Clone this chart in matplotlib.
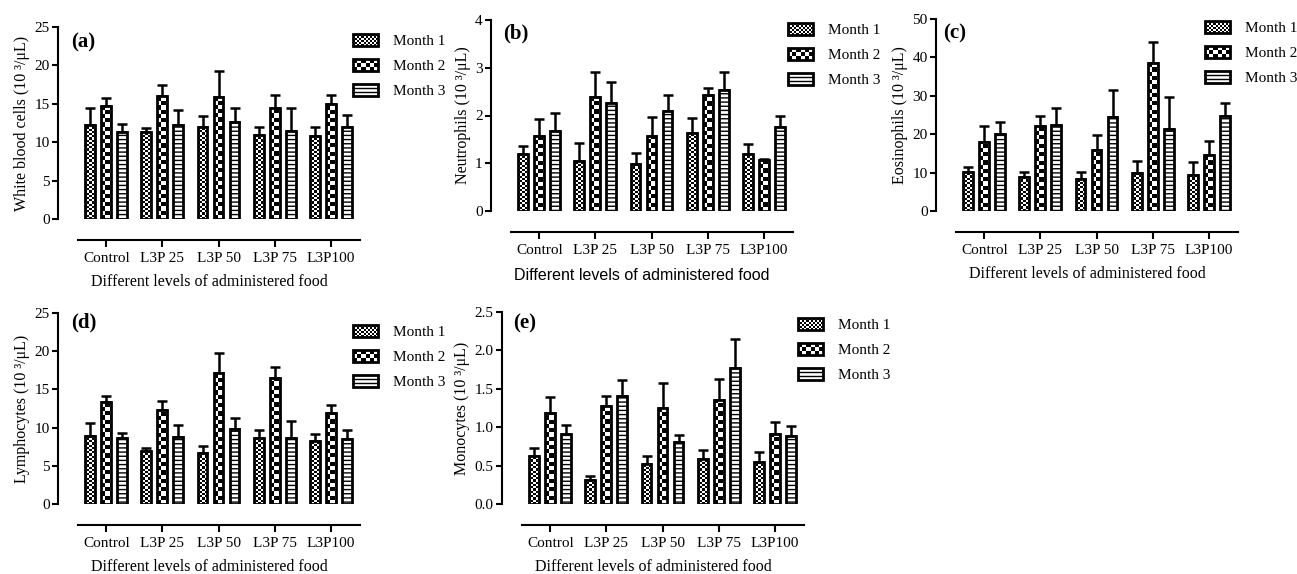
import numpy as np
import matplotlib
matplotlib.use("Agg")
import matplotlib.pyplot as plt
from matplotlib.patches import Rectangle
from matplotlib.lines import Line2D
from matplotlib.legend_handler import HandlerBase

plt.rcParams['font.family'] = ['Liberation Serif', 'DejaVu Serif']
plt.rcParams['hatch.linewidth'] = 1.0

groups = ["Control", "L3P 25", "L3P 50", "L3P 75", "L3P100"]
months = ["Month 1", "Month 2", "Month 3"]

# mean values per month (rows) and group (columns), and top of error bar
wbc_mean = [[12.2, 11.35, 12.0, 11.0, 10.8],
            [14.7, 16.0, 15.9, 14.5, 14.95],
            [11.3, 12.3, 12.65, 11.4, 12.0]]
wbc_top = [[14.5, 11.9, 13.4, 12.0, 12.0],
           [15.8, 17.4, 19.3, 16.1, 16.1],
           [12.4, 14.2, 14.4, 14.5, 13.5]]

neu_mean = [[1.19, 1.05, 0.99, 1.64, 1.20],
            [1.57, 2.39, 1.58, 2.42, 1.07],
            [1.67, 2.26, 2.09, 2.54, 1.75]]
neu_top = [[1.36, 1.42, 1.21, 1.94, 1.40],
           [1.92, 2.92, 1.96, 2.58, 1.08],
           [2.06, 2.70, 2.42, 2.92, 1.99]]

eos_mean = [[10.05, 8.9, 8.4, 9.9, 9.45],
            [17.9, 22.1, 16.0, 38.6, 14.5],
            [20.1, 22.3, 24.35, 21.3, 24.8]]
eos_top = [[11.4, 10.2, 10.05, 13.1, 12.8],
           [22.2, 24.7, 19.7, 44.0, 18.1],
           [23.2, 26.9, 31.4, 29.6, 28.25]]

lym_mean = [[8.9, 6.9, 6.65, 8.6, 8.2],
            [13.3, 12.3, 17.1, 16.5, 11.95],
            [8.7, 8.8, 9.8, 8.7, 8.45]]
lym_top = [[10.6, 7.35, 7.6, 9.75, 9.2],
           [14.2, 13.5, 19.8, 17.9, 13.0],
           [9.3, 10.3, 11.2, 10.9, 9.7]]

mon_mean = [[0.63, 0.31, 0.52, 0.59, 0.55],
            [1.18, 1.28, 1.25, 1.35, 0.91],
            [0.91, 1.41, 0.81, 1.77, 0.88]]
mon_top = [[0.73, 0.37, 0.63, 0.70, 0.68],
           [1.39, 1.40, 1.57, 1.63, 1.07],
           [1.03, 1.62, 0.90, 2.15, 1.01]]

W, H = 1297, 574
XMIN, XMAX = -0.86, 4.52
AX_W = 302
lw = 2.0
cell_px = [2.2, 4.2, None]   # checker size for month 1 and 2, month 3 is lines


def fx(x):
    return x / W


def fy(y):
    return 1 - y / H


class PatternHandler(HandlerBase):
    # legend key drawn with the same checker / stripe look as the bars
    def __init__(self, kind):
        super().__init__()
        self.kind = kind

    def create_artists(self, legend, orig_handle, xdescent, ydescent,
                       width, height, fontsize, trans):
        x0, y0 = -xdescent, -ydescent
        arts = [Rectangle((x0, y0), width, height, facecolor='white',
                          edgecolor='none', transform=trans)]
        if self.kind < 2:
            nx = 12 if self.kind == 0 else 6
            c = width / nx
            ny = max(1, int(round(height / c)))
            cy = height / ny
            for i in range(nx):
                for j in range(ny):
                    if (i + j) % 2 == 0:
                        arts.append(Rectangle((x0 + i * c, y0 + j * cy), c, cy,
                                              facecolor='black', edgecolor='none',
                                              transform=trans))
        else:
            for f in (0.35, 0.65):
                arts.append(Line2D([x0, x0 + width], [y0 + f * height] * 2,
                                   color='black', lw=1.0, transform=trans))
        arts.append(Rectangle((x0, y0), width, height, facecolor='none',
                              edgecolor='black', linewidth=lw, transform=trans))
        return arts


def checker_fill(ax, patch, dx, dy, zorder):
    x0, w, h = patch.get_x(), patch.get_width(), patch.get_height()
    nx = int(np.ceil(w / dx))
    ny = int(np.ceil(h / dy))
    arr = (np.add.outer(np.arange(ny), np.arange(nx)) % 2).astype(float)
    im = ax.imshow(arr, cmap='gray', vmin=0, vmax=1, origin='lower',
                   interpolation='nearest', aspect='auto',
                   extent=[x0, x0 + nx * dx, 0, ny * dy], zorder=zorder)
    im.set_clip_path(patch)


def panel(fig, left, top, bottom, mean, top_err, ymax, step, ylabel, tag,
          tag_xy, leg_xy, fmt="%d", sans_xlabel=False):
    ax = fig.add_axes([fx(left), fy(bottom), AX_W / W, (bottom - top) / H])
    ppx = AX_W / (XMAX - XMIN)
    ppy = (bottom - top) / ymax
    x = np.arange(len(groups))
    handles = []
    for i in range(3):
        m = np.array(mean[i])
        e = np.array(top_err[i]) - m
        pos = x + (i - 1) * 0.285
        if i == 2:
            ax.bar(pos, m, 0.175, color='white', edgecolor='black',
                   hatch='----', linewidth=0, zorder=2)
        else:
            bars = ax.bar(pos, m, 0.175, color='white', edgecolor='none',
                          linewidth=0, zorder=2)
            for p in bars.patches:
                checker_fill(ax, p, cell_px[i] / ppx, cell_px[i] / ppy, 2.5)
        edge = ax.bar(pos, m, 0.175, facecolor='none', edgecolor='black',
                      linewidth=lw, zorder=3)
        handles.append(edge)
        ax.errorbar(pos, m, yerr=[np.zeros_like(e), e], fmt='none',
                    ecolor='black', elinewidth=1.8, capsize=3.5, capthick=1.8,
                    zorder=1)
    ax.set_xlim(XMIN, XMAX)
    ax.set_ylim(0, ymax)
    ax.set_yticks(np.arange(0, ymax + step / 2, step))
    ax.yaxis.set_major_formatter(matplotlib.ticker.FormatStrFormatter(fmt))
    ax.set_xticks(x)
    ax.set_xticklabels(groups)
    for s in ['top', 'right']:
        ax.spines[s].set_visible(False)
    for s in ['left', 'bottom']:
        ax.spines[s].set_linewidth(1.5)
    ax.spines['bottom'].set_position(('outward', 15))
    ax.spines['bottom'].set_bounds(-0.5, XMAX)
    ax.tick_params(axis='both', width=1.5, length=4, labelsize=11, pad=2)
    ax.tick_params(axis='x', length=5, pad=4)
    ax.set_ylabel(ylabel, fontsize=11.5, labelpad=3)
    if sans_xlabel:
        ax.set_xlabel("Different levels of administered food", fontsize=11.5,
                      family=['Liberation Sans', 'DejaVu Sans'], labelpad=8)
    else:
        ax.set_xlabel("Different levels of administered food", fontsize=11.5,
                      labelpad=6)
    fig.text(fx(tag_xy[0]), fy(tag_xy[1]), tag, fontsize=15, weight='bold',
             ha='left', va='center')
    ax.legend(handles, months, handler_map={h: PatternHandler(k)
                                            for k, h in enumerate(handles)},
              loc='upper left', bbox_to_anchor=(fx(leg_xy[0]), fy(leg_xy[1])),
              bbox_transform=fig.transFigure, frameon=False, fontsize=11,
              handlelength=1.65, handleheight=0.8, handletextpad=0.95,
              labelspacing=0.72, borderpad=0, borderaxespad=0)
    return ax


fig = plt.figure(figsize=(W / 100, H / 100), dpi=100)

panel(fig, 58, 27, 219, wbc_mean, wbc_top, 25, 5,
      "White blood cells (10 \u00b3/\u03bcL)", "(a)", (71, 42), (353, 34))
panel(fig, 491, 20, 211, neu_mean, neu_top, 4, 1,
      "Neutrophils (10 \u00b3/\u03bcL)", "(b)", (503, 33), (788, 23),
      sans_xlabel=True)
panel(fig, 936, 19, 211, eos_mean, eos_top, 50, 10,
      "Eosinophils (10 \u00b3/\u03bcL)", "(c)", (943, 33), (1205, 21))
panel(fig, 58, 313, 504, lym_mean, lym_top, 25, 5,
      "Lymphocytes (10 \u00b3/\u03bcL)", "(d)", (71, 322), (353, 325))
panel(fig, 502, 312, 504, mon_mean, mon_top, 2.5, 0.5,
      "Monocytes (10 \u00b3/\u03bcL)", "(e)", (513, 323), (798, 318), fmt="%.1f")

fig.savefig("out.png", dpi=100)
